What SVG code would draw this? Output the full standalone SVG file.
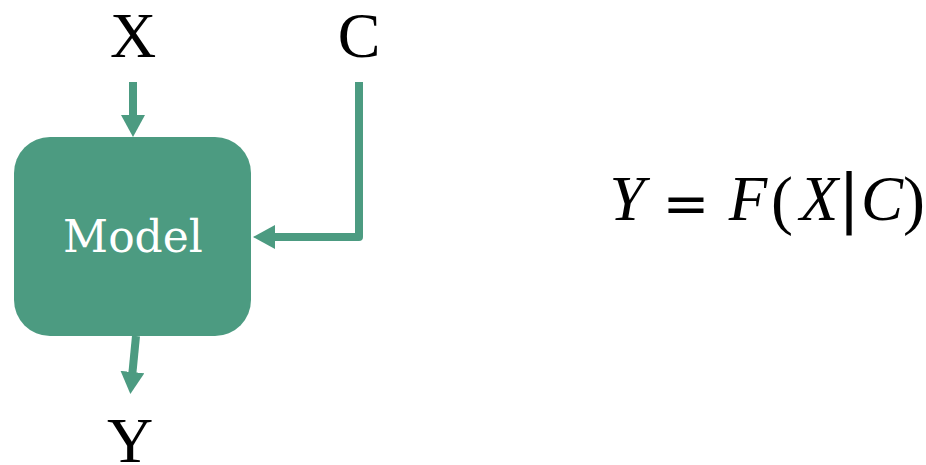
<svg xmlns="http://www.w3.org/2000/svg" width="926" height="465" viewBox="0 0 926 465">
<style>
.lbl{font-family:"Liberation Serif","Times New Roman",serif;font-size:64px;fill:#000;text-anchor:middle}
.eq{font-family:"Liberation Serif","Times New Roman",serif;font-size:63px;font-style:italic;fill:#000;text-anchor:middle}
.conn{fill:none;stroke:#4c9b81;stroke-width:8;stroke-linejoin:round}
</style>
<defs>
<marker id="ah" viewBox="0 0 22 24" refX="2" refY="12" markerWidth="22" markerHeight="24" markerUnits="userSpaceOnUse" orient="auto">
<path d="M0,0 L22,12 L0,24 Z" fill="#4c9b81"/>
</marker>
</defs>
<g id="model">
<rect x="14" y="137" width="237" height="199" rx="36" ry="36" fill="#4c9b81"/>
<text x="133" y="252" font-family="'DejaVu Serif',serif" font-size="44" fill="#fff" text-anchor="middle">Model</text>
</g>
<g id="x"><text class="lbl" x="133" y="57">X</text></g>
<g id="c"><text class="lbl" x="359" y="57">C</text></g>
<g id="y"><text class="lbl" x="130" y="462">Y</text></g>
<g id="connectors">
<path class="conn" d="M133,82 V117" marker-end="url(#ah)"/>
<path class="conn" d="M359,82 V237 H273" marker-end="url(#ah)"/>
<path class="conn" d="M136,336 L132.3,374" marker-end="url(#ah)"/>
</g>
<g id="equation">
<text class="eq" x="627" y="220">Y</text>
<text x="686" y="223" font-family="'DejaVu Sans',sans-serif" font-size="56" text-anchor="middle">=</text>
<text class="eq" x="748" y="220">F</text>
<text x="782" y="222" font-family="'Liberation Serif',serif" font-size="66" text-anchor="middle">(</text>
<text class="eq" x="819" y="220">X</text>
<text x="849" y="220" font-family="'DejaVu Sans',sans-serif" font-size="64" text-anchor="middle">|</text>
<text class="eq" x="882" y="220">C</text>
<text x="914" y="222" font-family="'Liberation Serif',serif" font-size="66" text-anchor="middle">)</text>
</g>
</svg>
